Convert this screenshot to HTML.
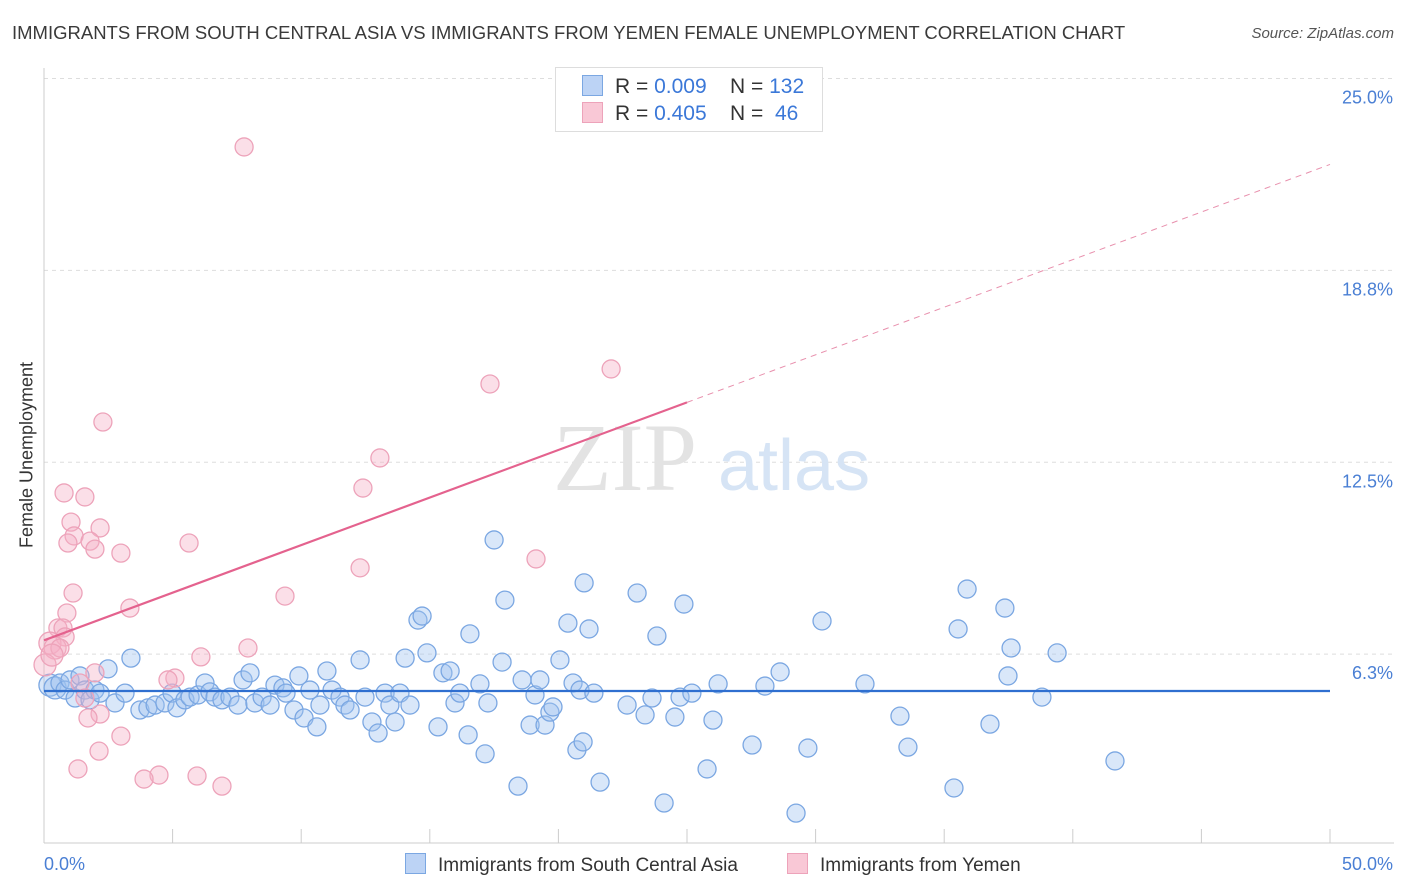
<!DOCTYPE html>
<html><head><meta charset="utf-8">
<style>
body{margin:0;background:#fff;font-family:"Liberation Sans",sans-serif;}
#wrap{position:relative;width:1406px;height:892px;overflow:hidden;}
.t{position:absolute;white-space:nowrap;}
</style></head>
<body>
<div id="wrap">
<div class="t" style="left:12px;top:22px;font-size:18.5px;color:#3a3a3a;">IMMIGRANTS FROM SOUTH CENTRAL ASIA VS IMMIGRANTS FROM YEMEN FEMALE UNEMPLOYMENT CORRELATION CHART</div>
<div class="t" style="right:12px;top:25px;font-size:15px;color:#555;font-style:italic;">Source: ZipAtlas.com</div>
<svg id="svg" width="1406" height="892" style="position:absolute;left:0;top:0"></svg>
</div>
<script>
const yTicks=[6.25,12.5,18.75,25];
const yTickLabels=["6.3%","12.5%","18.8%","25.0%"];
const xTickLabels=["0.0%","50.0%"];
const blueX=[0.23,0.43,0.62,0.82,1.01,1.21,1.40,1.59,1.79,1.98,2.18,2.49,2.76,3.15,3.38,3.73,4.04,4.32,4.70,4.98,5.17,5.48,5.68,5.99,6.26,6.45,6.65,6.92,7.23,7.54,7.74,8.01,8.20,8.48,8.79,8.98,9.29,9.41,9.72,9.91,10.11,10.34,10.61,10.73,11.00,11.20,11.51,11.70,11.90,12.29,12.48,12.75,12.99,13.26,13.45,13.65,13.84,14.04,14.23,14.54,14.70,14.89,15.32,15.51,15.79,15.98,16.17,16.49,16.56,16.95,17.15,17.26,17.50,17.81,17.92,18.43,18.59,18.90,19.09,19.28,19.48,19.67,19.79,20.06,20.37,20.57,20.72,20.84,20.96,21.00,21.19,21.38,21.62,22.67,23.06,23.37,23.64,23.83,24.11,24.53,24.73,24.88,25.19,25.78,26.01,26.21,27.53,28.03,28.62,29.24,29.70,30.25,31.92,33.28,33.59,35.38,35.54,35.89,36.78,37.36,37.48,37.60,38.80,39.39,41.64];
const blueY=[5.24,5.15,5.31,5.08,5.41,4.82,5.54,5.08,4.76,5.08,4.98,5.77,4.66,4.98,6.12,4.43,4.50,4.59,4.66,4.98,4.50,4.76,4.85,4.92,5.31,5.02,4.85,4.76,4.85,4.59,5.41,5.64,4.66,4.85,4.59,5.24,5.15,4.98,4.43,5.54,4.17,5.08,3.88,4.59,5.70,5.08,4.85,4.59,4.43,6.06,4.85,4.04,3.68,4.98,4.59,4.04,4.98,6.12,4.59,7.36,7.49,6.29,3.88,5.64,5.70,4.66,4.98,3.62,6.91,5.28,3.00,4.66,9.97,5.99,8.01,1.95,5.41,3.94,4.92,5.41,3.94,4.36,4.53,6.06,7.26,5.31,3.13,5.08,3.39,8.57,7.07,4.98,2.08,4.59,8.24,4.27,4.82,6.84,1.40,4.20,4.85,7.88,4.98,2.51,4.10,5.28,3.29,5.21,5.67,1.07,3.19,7.33,5.28,4.23,3.22,1.89,7.07,8.37,3.97,7.75,5.54,6.45,4.85,6.29,2.77];
const pinkX=[7.78,17.34,22.05,2.29,13.06,12.40,0.78,1.59,1.05,2.18,1.17,1.79,0.93,5.64,1.98,2.99,19.13,12.29,1.13,9.37,3.34,0.89,0.54,0.74,0.82,0.23,0.43,0.62,7.93,6.10,1.98,5.09,4.82,1.40,1.59,2.18,1.71,2.99,2.14,1.32,4.47,3.89,5.95,6.92,0.04,0.31];
const pinkY=[22.77,15.05,15.54,13.81,12.64,11.66,11.50,11.37,10.55,10.36,10.10,9.93,9.87,9.87,9.67,9.54,9.35,9.06,8.24,8.14,7.75,7.59,7.10,7.10,6.81,6.61,6.45,6.45,6.45,6.16,5.64,5.47,5.41,5.31,4.82,4.30,4.17,3.58,3.09,2.51,2.31,2.18,2.28,1.95,5.90,6.22];
const blueTrend=[5.05,5.05];
const pinkTrend=[6.7,22.2];

const NS="http://www.w3.org/2000/svg";
const svg=document.getElementById('svg');
const L=44,R=1330,Y0=846,PPY=30.7;
const sx=v=>L+v/50*(R-L);
const sy=v=>Y0-v*PPY;
function mk(t,a){const e=document.createElementNS(NS,t);for(const k in a)e.setAttribute(k,a[k]);svg.appendChild(e);return e;}
yTicks.forEach((v,i)=>{
 const g=mk('line',{x1:L,x2:1394,y1:sy(v),y2:sy(v),stroke:'#ddd','stroke-dasharray':'4,4'});
 
 
 const t=mk('text',{x:1393,y:sy(v)+25,'text-anchor':'end','font-size':18,fill:'#4a7fd4','font-family':'Liberation Sans'});
 t.textContent=yTickLabels[i];
 
 
});
const ax=mk('line',{x1:L,x2:1394,y1:843,y2:843,stroke:'#ccc'});


const ay=mk('line',{x1:L,x2:L,y1:68,y2:843,stroke:'#ccc'});


for(let i=0;i<=10;i++){const tk=mk('line',{x1:sx(i*5),x2:sx(i*5),y1:829,y2:843,stroke:'#ccc'});
 
 }
[[0,44,'start'],[1,1393,'end']].forEach(([i,x,a])=>{const t=mk('text',{x:x,y:870,'text-anchor':a,'font-size':18,fill:'#4a7fd4','font-family':'Liberation Sans'});t.textContent=xTickLabels[i];
 
 });
const wm=mk('text',{x:553,y:490,'font-size':96,fill:'#e3e3e3','font-family':'Liberation Serif'});wm.textContent='ZIP';


const wm2=mk('text',{x:718,y:490,'font-size':72,fill:'#d6e4f5','font-family':'Liberation Sans'});wm2.textContent='atlas';


function pts(X,Y,fill,stroke,name){X.forEach((x,i)=>{const big=(x<0.5);const c=mk('circle',{cx:sx(x),cy:sy(Y[i]),r:big?11:9,fill:fill,stroke:stroke,'stroke-width':1.3});
 
 });}
pts(blueX,blueY,'rgba(160,195,240,0.4)','#7ba7e2','point-south-central-asia');
pts(pinkX,pinkY,'rgba(246,175,198,0.4)','#eda3ba','point-yemen');
const bt=mk('line',{x1:sx(0),x2:sx(50),y1:sy(blueTrend[0]),y2:sy(blueTrend[1]),stroke:'#2f6fd0','stroke-width':2.2});


const mid=pinkTrend[0]+(pinkTrend[1]-pinkTrend[0])*0.5;
const pt=mk('line',{x1:sx(0),x2:sx(25),y1:sy(pinkTrend[0]),y2:sy(mid),stroke:'#e4628e','stroke-width':2.2});


const pd=mk('line',{x1:sx(25),x2:sx(50),y1:sy(mid),y2:sy(pinkTrend[1]),stroke:'#e890ad','stroke-width':1,'stroke-dasharray':'6,5'});


</script>
<div class="t" style="left:27px;top:455px;font-size:18px;color:#333;transform:translate(-50%,-50%) rotate(-90deg);">Female Unemployment</div>
<div style="position:absolute;left:555px;top:67px;width:266px;height:63px;border:1px solid #ddd;background:#fff;font-size:21px;color:#333;">
 <div style="position:absolute;left:26px;top:7px;white-space:nowrap;"><span style="display:inline-block;width:19px;height:19px;background:#bcd3f5;border:1px solid #7ba7e2;vertical-align:-3px;margin-right:12px;"></span>R = <span style="color:#3b78d8">0.009</span>&nbsp;&nbsp;&nbsp; N = <span style="color:#3b78d8">132</span></div>
 <div style="position:absolute;left:26px;top:34px;white-space:nowrap;"><span style="display:inline-block;width:19px;height:19px;background:#f9c8d6;border:1px solid #eda3ba;vertical-align:-3px;margin-right:12px;"></span>R = <span style="color:#3b78d8">0.405</span>&nbsp;&nbsp;&nbsp; N = &nbsp;<span style="color:#3b78d8">46</span></div>
</div>
<div class="t" style="left:405px;top:853px;font-size:19px;color:#333;"><span style="display:inline-block;width:19px;height:19px;background:#bcd3f5;border:1px solid #7ba7e2;vertical-align:-3px;margin-right:12px;"></span>Immigrants from South Central Asia</div>
<div class="t" style="left:787px;top:853px;font-size:19px;color:#333;"><span style="display:inline-block;width:19px;height:19px;background:#f9c8d6;border:1px solid #eda3ba;vertical-align:-3px;margin-right:12px;"></span>Immigrants from Yemen</div>
</body></html>
